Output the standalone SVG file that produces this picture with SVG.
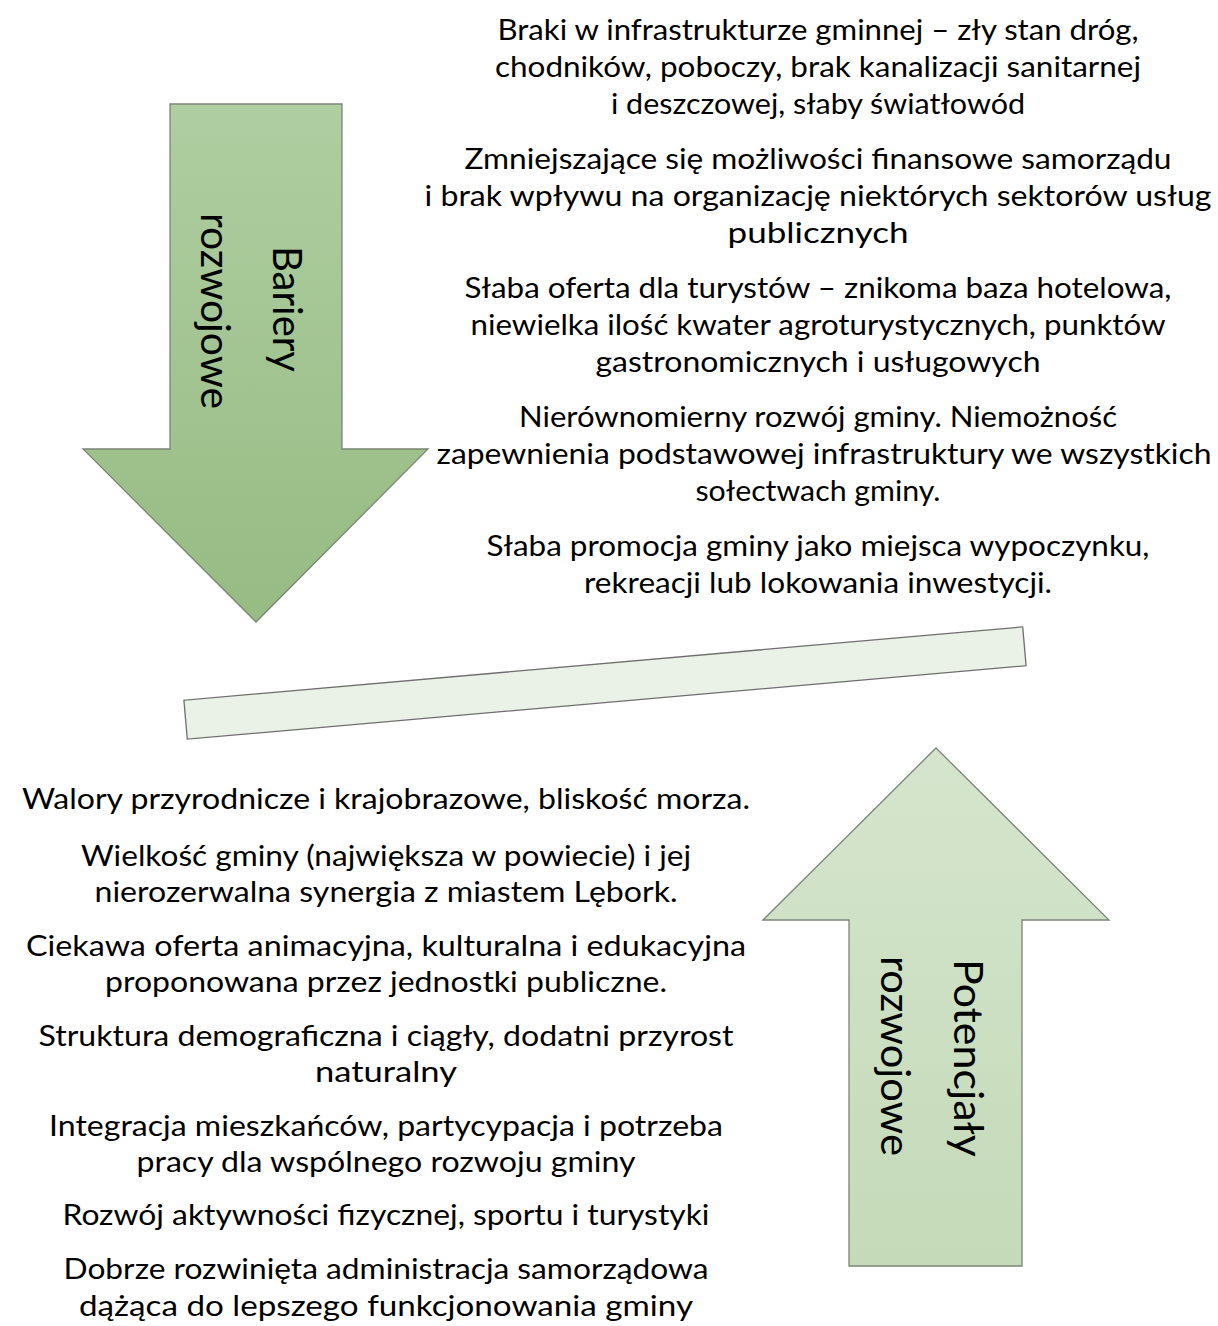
<svg xmlns="http://www.w3.org/2000/svg" width="1218" height="1326" viewBox="0 0 1218 1326">
<defs>
<linearGradient id="gTop" x1="0" y1="0" x2="0" y2="1">
<stop offset="0" stop-color="#afcea1"/>
<stop offset="1" stop-color="#96bb83"/>
</linearGradient>
<linearGradient id="gBot" x1="0" y1="0" x2="0" y2="1">
<stop offset="0" stop-color="#d5e5cd"/>
<stop offset="1" stop-color="#c4dab8"/>
</linearGradient>
<style>
.t{font-family:Lato,"Open Sans","Liberation Sans",sans-serif;font-size:28px;fill:#000;text-anchor:middle}
.lab{font-family:Lato,"Open Sans","Liberation Sans",sans-serif;font-size:41px;fill:#000;text-anchor:middle}
.arr{stroke:#7b8576;stroke-width:1.3}
</style>
</defs>
<rect width="1218" height="1326" fill="#ffffff"/>

<g id="arrow-bariery">
<polygon class="arr" fill="url(#gTop)" points="170,104 342,104 342,449 428,449 256,622 83,449 170,449"/>
<g transform="translate(284,309) rotate(90)">
<text class="lab" x="0" y="11" textLength="126" lengthAdjust="spacingAndGlyphs">Bariery</text>
</g>
<g transform="translate(212,311) rotate(90)">
<text class="lab" x="0" y="11" textLength="196" lengthAdjust="spacingAndGlyphs">rozwojowe</text>
</g>
</g>

<g id="bar">
<rect x="-421" y="-19.5" width="842" height="39" fill="#eaf1e6" stroke="#6e6e6e" stroke-width="1.3" transform="translate(605,683) rotate(-5)"/>
</g>

<g id="arrow-potencjaly">
<polygon class="arr" fill="url(#gBot)" points="936,748 1109,920 1022,920 1022,1266 849,1266 849,920 763,920"/>
<g transform="translate(965,1058) rotate(90)">
<text class="lab" x="0" y="11" textLength="198" lengthAdjust="spacingAndGlyphs">Potencjały</text>
</g>
<g transform="translate(892,1056) rotate(90)">
<text class="lab" x="0" y="11" textLength="200" lengthAdjust="spacingAndGlyphs">rozwojowe</text>
</g>
</g>

<g id="bariery-text">
<text class="t" x="818" y="40" textLength="641" lengthAdjust="spacingAndGlyphs">Braki w infrastrukturze gminnej – zły stan dróg,</text>
<text class="t" x="818" y="77" textLength="646" lengthAdjust="spacingAndGlyphs">chodników, poboczy, brak kanalizacji sanitarnej</text>
<text class="t" x="818" y="114" textLength="414" lengthAdjust="spacingAndGlyphs">i deszczowej, słaby światłowód</text>
<text class="t" x="818" y="169" textLength="707" lengthAdjust="spacingAndGlyphs">Zmniejszające się możliwości finansowe samorządu</text>
<text class="t" x="818" y="206" textLength="787" lengthAdjust="spacingAndGlyphs">i brak wpływu na organizację niektórych sektorów usług</text>
<text class="t" x="818" y="243" textLength="181" lengthAdjust="spacingAndGlyphs">publicznych</text>
<text class="t" x="818" y="298" textLength="707" lengthAdjust="spacingAndGlyphs">Słaba oferta dla turystów – znikoma baza hotelowa,</text>
<text class="t" x="818" y="335" textLength="695" lengthAdjust="spacingAndGlyphs">niewielka ilość kwater agroturystycznych, punktów</text>
<text class="t" x="818" y="372" textLength="445" lengthAdjust="spacingAndGlyphs">gastronomicznych i usługowych</text>
<text class="t" x="818" y="427" textLength="598" lengthAdjust="spacingAndGlyphs">Nierównomierny rozwój gminy. Niemożność</text>
<text class="t" x="824" y="464" textLength="775" lengthAdjust="spacingAndGlyphs">zapewnienia podstawowej infrastruktury we wszystkich</text>
<text class="t" x="818" y="501" textLength="245" lengthAdjust="spacingAndGlyphs">sołectwach gminy.</text>
<text class="t" x="818" y="556" textLength="663" lengthAdjust="spacingAndGlyphs">Słaba promocja gminy jako miejsca wypoczynku,</text>
<text class="t" x="818" y="593" textLength="468" lengthAdjust="spacingAndGlyphs">rekreacji lub lokowania inwestycji.</text>
</g>

<g id="potencjaly-text">
<text class="t" x="386" y="809" textLength="728" lengthAdjust="spacingAndGlyphs">Walory przyrodnicze i krajobrazowe, bliskość morza.</text>
<text class="t" x="386" y="866" textLength="610" lengthAdjust="spacingAndGlyphs">Wielkość gminy (największa w powiecie) i jej</text>
<text class="t" x="386" y="902" textLength="583" lengthAdjust="spacingAndGlyphs">nierozerwalna synergia z miastem Lębork.</text>
<text class="t" x="386" y="956" textLength="720" lengthAdjust="spacingAndGlyphs">Ciekawa oferta animacyjna, kulturalna i edukacyjna</text>
<text class="t" x="386" y="992" textLength="562" lengthAdjust="spacingAndGlyphs">proponowana przez jednostki publiczne.</text>
<text class="t" x="386" y="1046" textLength="695" lengthAdjust="spacingAndGlyphs">Struktura demograficzna i ciągły, dodatni przyrost</text>
<text class="t" x="386" y="1082" textLength="142" lengthAdjust="spacingAndGlyphs">naturalny</text>
<text class="t" x="386" y="1136" textLength="674" lengthAdjust="spacingAndGlyphs">Integracja mieszkańców, partycypacja i potrzeba</text>
<text class="t" x="386" y="1172" textLength="499" lengthAdjust="spacingAndGlyphs">pracy dla wspólnego rozwoju gminy</text>
<text class="t" x="386" y="1225" textLength="647" lengthAdjust="spacingAndGlyphs">Rozwój aktywności fizycznej, sportu i turystyki</text>
<text class="t" x="386" y="1279" textLength="645" lengthAdjust="spacingAndGlyphs">Dobrze rozwinięta administracja samorządowa</text>
<text class="t" x="386" y="1316" textLength="614" lengthAdjust="spacingAndGlyphs">dążąca do lepszego funkcjonowania gminy</text>
</g>
</svg>
